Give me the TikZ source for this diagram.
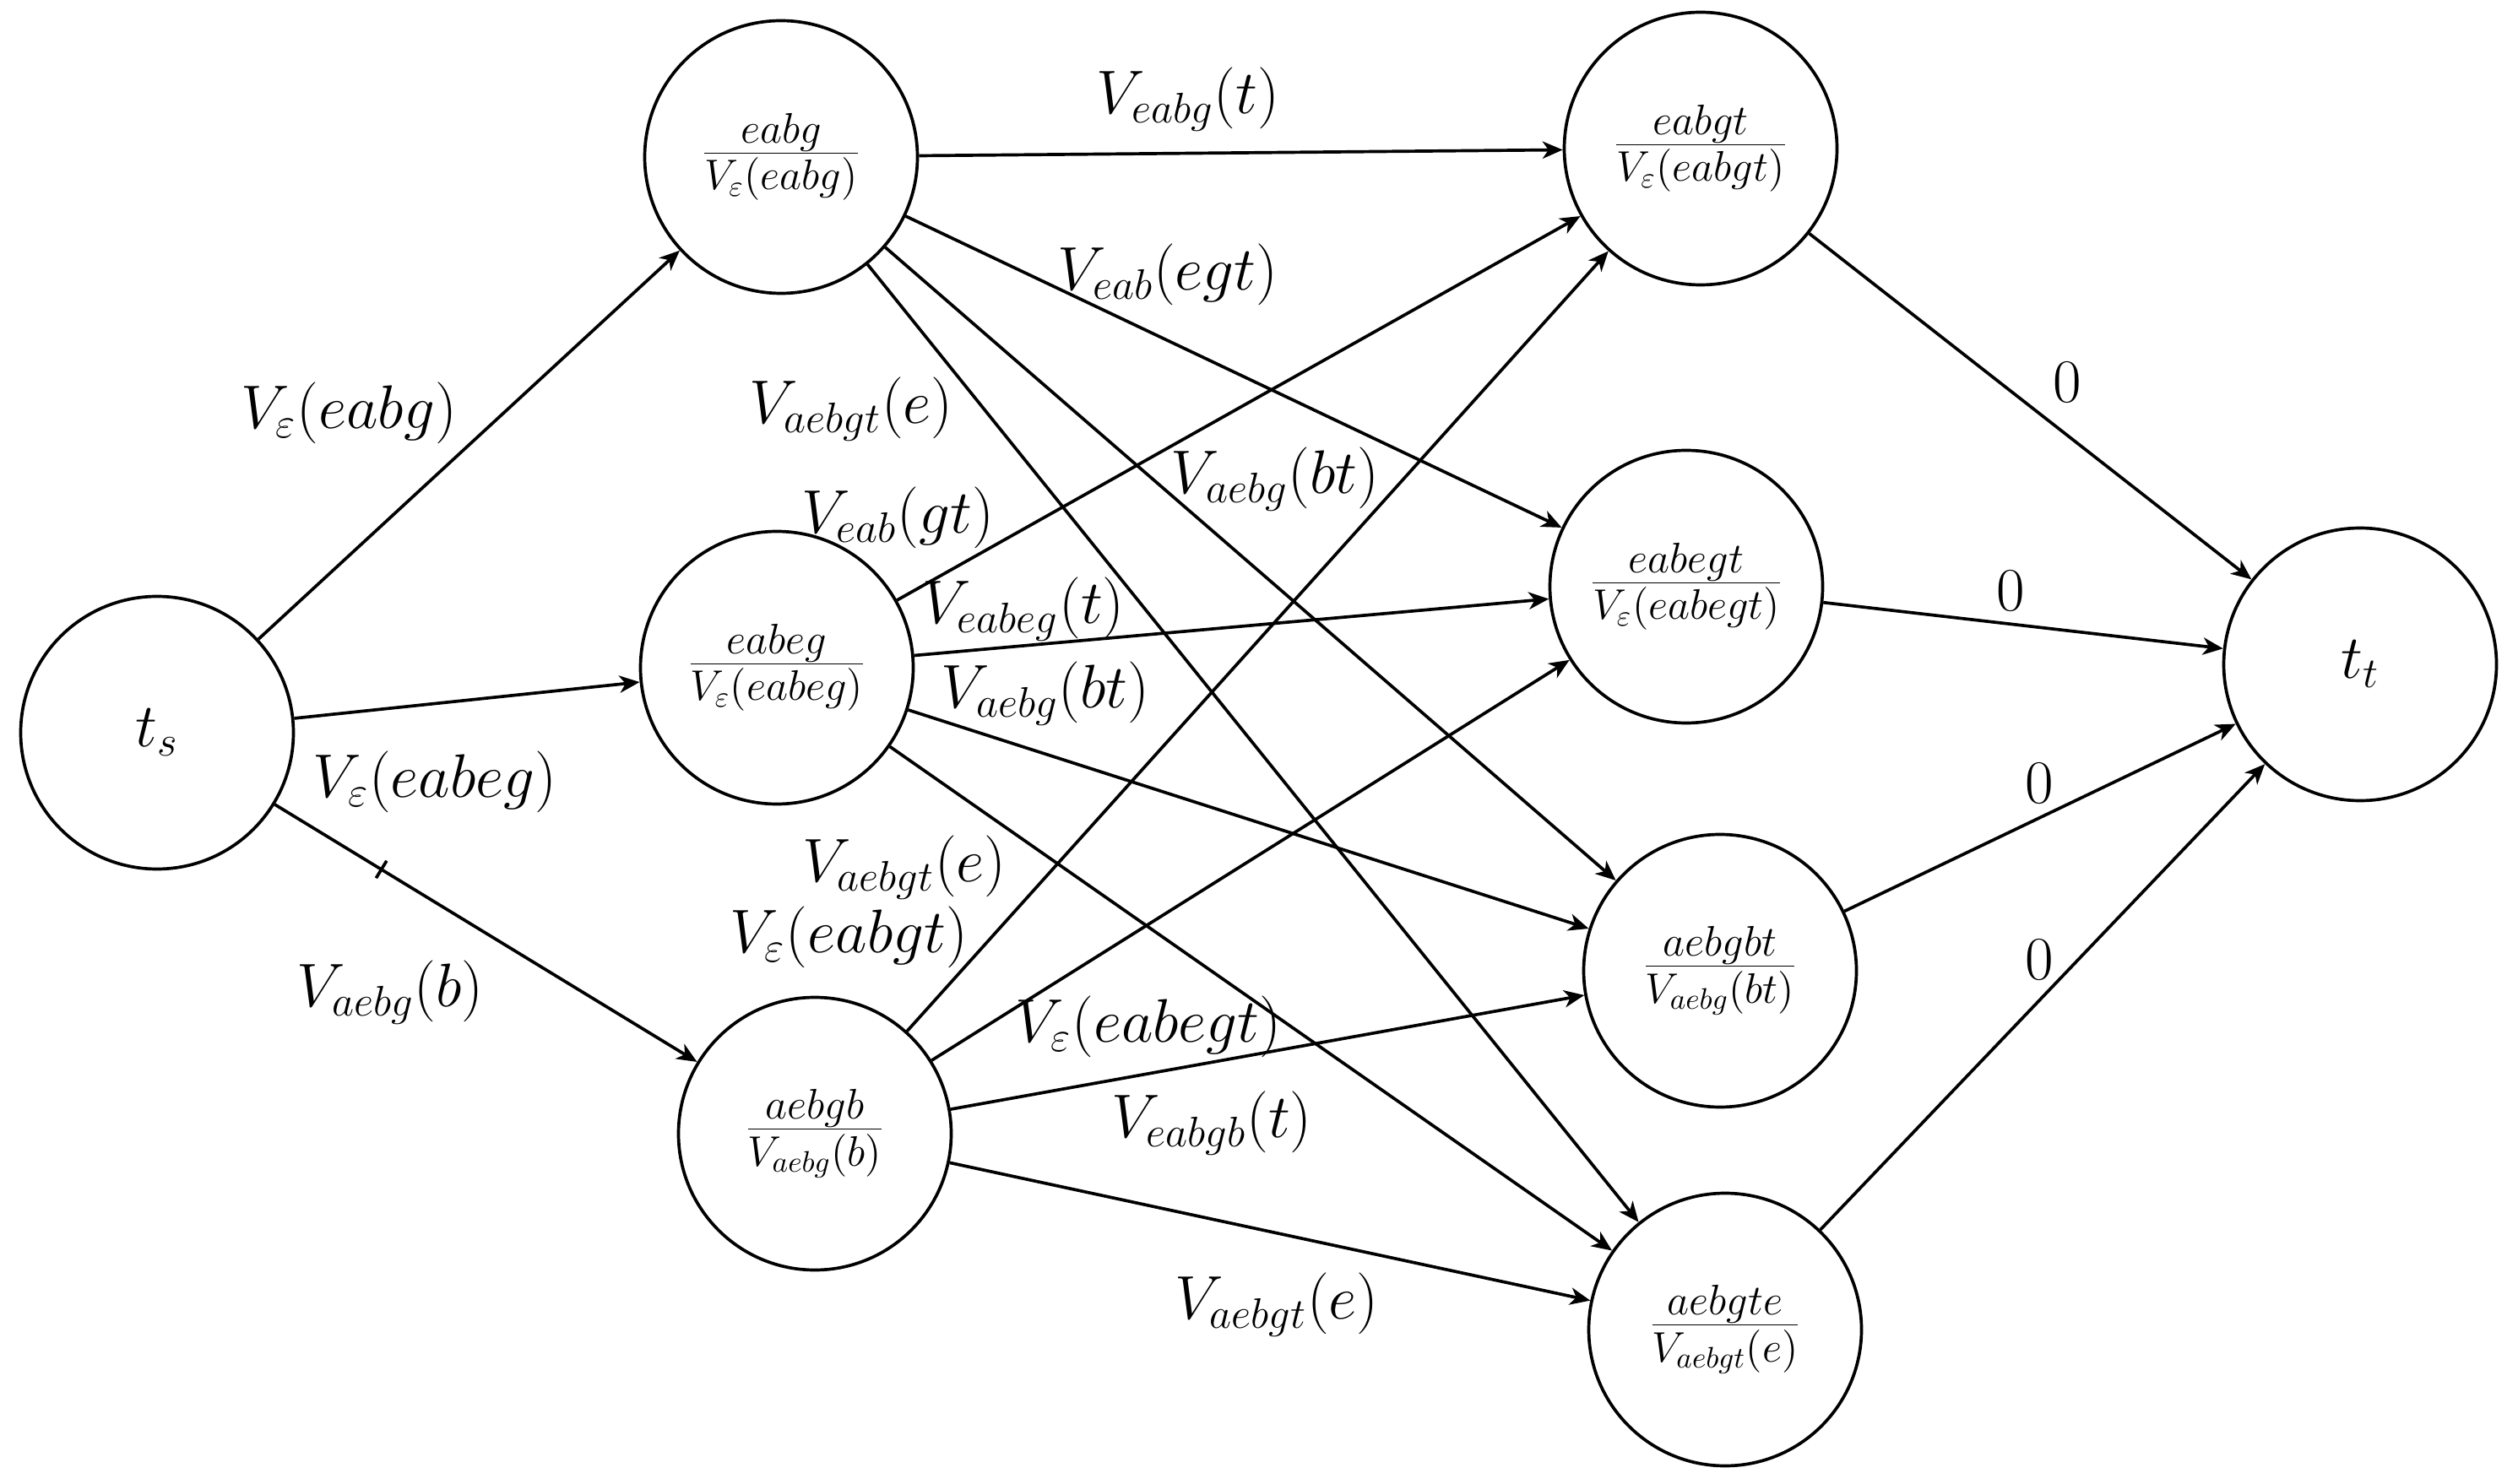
\documentclass[tikz,border=0pt]{standalone}
\usetikzlibrary{arrows.meta,calc}
\begin{document}
\begin{tikzpicture}[
  state/.style={circle,draw,line width=1.05pt,minimum size=3.23cm,inner sep=0pt,font=\fontsize{19.5}{23}\selectfont},
  lab/.style={inner sep=0pt,font=\fontsize{19.5}{23}\selectfont},
  conn/.style={line width=1.05pt,-{Stealth[length=6.8pt,width=5.8pt,inset=2pt]}}
]
\useasboundingbox (0,0) rectangle (29.82,17.57);
% nodes
\node[state] (ts) at (1.86,8.89) {$t_s$};
\node[state] (eabg) at (9.25,15.71) {$\frac{eabg}{V_\varepsilon(eabg)}$};
\node[state] (eabeg) at (9.20,9.66) {$\frac{eabeg}{V_\varepsilon(eabeg)}$};
\node[state] (aebgb) at (9.65,4.14) {$\frac{aebgb}{V_{aebg}(b)}$};
\node[state] (eabgt) at (20.14,15.81) {$\frac{eabgt}{V_\varepsilon(eabgt)}$};
\node[state] (eabegt) at (19.97,10.62) {$\frac{eabegt}{V_\varepsilon(eabegt)}$};
\node[state] (aebgbt) at (20.37,6.07) {$\frac{aebgbt}{V_{aebg}(bt)}$};
\node[state] (aebgte) at (20.43,1.82) {$\frac{aebgte}{V_{aebgt}(e)}$};
\node[state] (tt) at (27.95,9.70) {$t_t$};
% edges
\draw[conn] (ts) -- (eabg);
\draw[conn] (ts) -- (eabeg);
\draw[conn] (ts) -- (aebgb);
\draw[line width=1.05pt] ($(ts)!0.341!(aebgb)!0.12cm!90:(aebgb)$) -- ($(ts)!0.341!(aebgb)!0.12cm!-90:(aebgb)$);
\draw[conn] (eabg) -- (eabgt);
\draw[conn] (eabg) -- (eabegt);
\draw[conn] (eabg) -- (aebgbt);
\draw[conn] (eabg) -- (aebgte);
\draw[conn] (eabeg) -- (eabgt);
\draw[conn] (eabeg) -- (eabegt);
\draw[conn] (eabeg) -- (aebgbt);
\draw[conn] (eabeg) -- (aebgte);
\draw[conn] (aebgb) -- (eabgt);
\draw[conn] (aebgb) -- (eabegt);
\draw[conn] (aebgb) -- (aebgbt);
\draw[conn] (aebgb) -- (aebgte);
\draw[conn] (eabgt) -- (tt);
\draw[conn] (eabegt) -- (tt);
\draw[conn] (aebgbt) -- (tt);
\draw[conn] (aebgte) -- (tt);
% labels
\node[lab] (l1) at (4.13,12.68) {$V_\varepsilon(eabg)$};
\node[lab] (l2) at (5.15,8.31) {$V_\varepsilon(eabeg)$};
\node[lab] (l3) at (4.62,5.81) {$V_{aebg}(b)$};
\node[lab] (l4) at (14.07,16.39) {$V_{eabg}(t)$};
\node[lab] (l5) at (13.83,14.32) {$V_{eab}(egt)$};
\node[lab] (l6) at (15.10,11.89) {$V_{aebg}(bt)$};
\node[lab] (l7) at (10.08,12.72) {$V_{aebgt}(e)$};
\node[lab] (l8) at (10.63,11.44) {$V_{eab}(gt)$};
\node[lab] (l9) at (12.12,10.35) {$V_{eabeg}(t)$};
\node[lab] (l10) at (12.38,9.35) {$V_{aebg}(bt)$};
\node[lab] (l11) at (10.71,7.29) {$V_{aebgt}(e)$};
\node[lab] (l12) at (10.05,6.47) {$V_\varepsilon(eabgt)$};
\node[lab] (l13) at (13.60,5.41) {$V_\varepsilon(eabegt)$};
\node[lab] (l14) at (14.35,4.26) {$V_{eabgb}(t)$};
\node[lab] (l15) at (15.12,2.11) {$V_{aebgt}(e)$};
\node[lab] (z1) at (24.48,13.04) {$0$};
\node[lab] (z2) at (23.81,10.57) {$0$};
\node[lab] (z3) at (24.15,8.29) {$0$};
\node[lab] (z4) at (24.15,6.20) {$0$};
\end{tikzpicture}
\end{document}
